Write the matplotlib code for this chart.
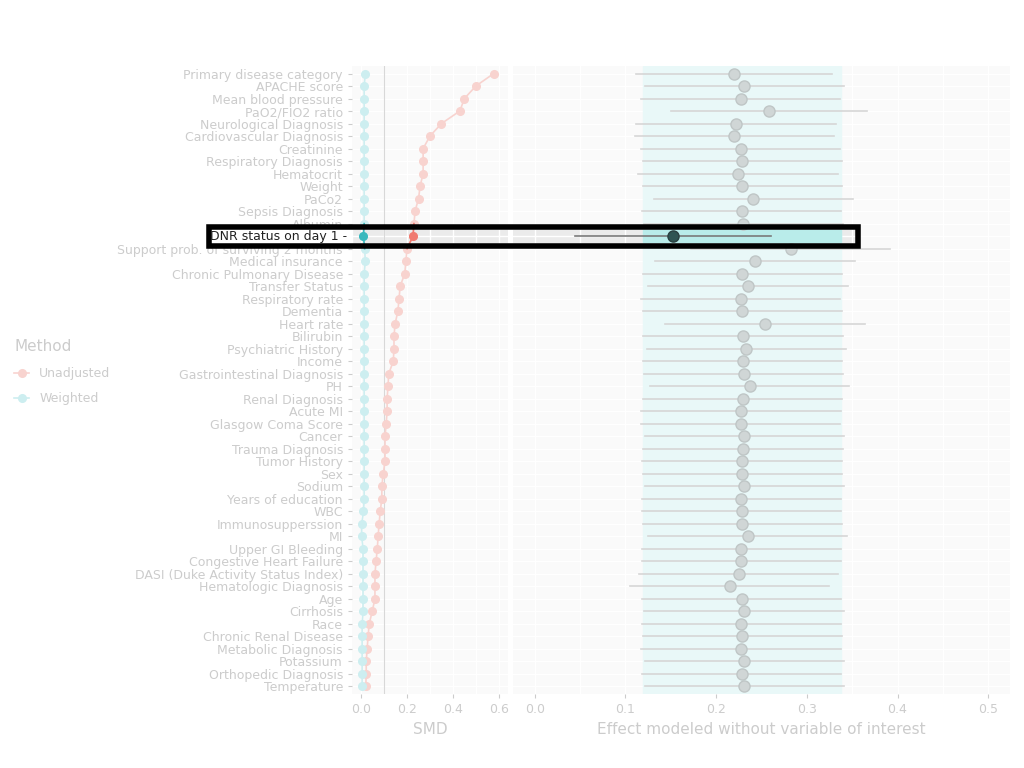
import matplotlib.pyplot as plt
from matplotlib.patches import Rectangle
from matplotlib.ticker import MultipleLocator

variables = [
    "Primary disease category", "APACHE score", "Mean blood pressure", "PaO2/FIO2 ratio",
    "Neurological Diagnosis", "Cardiovascular Diagnosis", "Creatinine", "Respiratory Diagnosis",
    "Hematocrit", "Weight", "PaCo2", "Sepsis Diagnosis", "Albumin", "DNR status on day 1",
    "Support prob. of surviving 2 months", "Medical insurance", "Chronic Pulmonary Disease",
    "Transfer Status", "Respiratory rate", "Dementia", "Heart rate", "Bilirubin",
    "Psychiatric History", "Income", "Gastrointestinal Diagnosis", "PH", "Renal Diagnosis",
    "Acute MI", "Glasgow Coma Score", "Cancer", "Trauma Diagnosis", "Tumor History", "Sex",
    "Sodium", "Years of education", "WBC", "Immunosupperssion", "MI", "Upper GI Bleeding",
    "Congestive Heart Failure", "DASI (Duke Activity Status Index)", "Hematologic Diagnosis",
    "Age", "Cirrhosis", "Race", "Chronic Renal Disease", "Metabolic Diagnosis", "Potassium",
    "Orthopedic Diagnosis", "Temperature",
]
smd_unadj = [0.578, 0.50, 0.45, 0.43, 0.35, 0.30, 0.27, 0.27, 0.27, 0.257, 0.25, 0.235, 0.23,
             0.226, 0.20, 0.195, 0.19, 0.17, 0.165, 0.16, 0.148, 0.143, 0.143, 0.14, 0.12,
             0.117, 0.113, 0.113, 0.109, 0.104, 0.104, 0.104, 0.096, 0.09, 0.09, 0.083, 0.078,
             0.074, 0.07, 0.065, 0.06, 0.06, 0.06, 0.048, 0.035, 0.03, 0.026, 0.022, 0.022, 0.02]
smd_weighted = [0.018, 0.013, 0.013, 0.013, 0.013, 0.013, 0.013, 0.013, 0.013, 0.013, 0.013,
                0.013, 0.013, 0.01, 0.015, 0.018, 0.013, 0.013, 0.013, 0.013, 0.013, 0.013,
                0.013, 0.013, 0.013, 0.013, 0.013, 0.013, 0.013, 0.013, 0.013, 0.013, 0.013,
                0.013, 0.013, 0.01, 0.002, 0.002, 0.008, 0.008, 0.008, 0.008, 0.008, 0.008,
                0.004, 0.004, 0.004, 0.004, 0.004, 0.004]
effect = [0.220, 0.231, 0.227, 0.258, 0.222, 0.220, 0.227, 0.229, 0.224, 0.229, 0.241, 0.228,
          0.230, 0.152, 0.282, 0.243, 0.229, 0.235, 0.227, 0.229, 0.254, 0.2296, 0.2333,
          0.2293, 0.2304, 0.2370, 0.2293, 0.2275, 0.2271, 0.2311, 0.2296, 0.2285, 0.2289,
          0.2311, 0.2278, 0.2282, 0.2289, 0.2348, 0.2278, 0.2278, 0.2248, 0.2149, 0.2282,
          0.2307, 0.2278, 0.2289, 0.2274, 0.2311, 0.2282, 0.2311]
half_ci = [0.108, 0.110, 0.110, 0.108, 0.110, 0.110, 0.110, 0.110, 0.110, 0.110, 0.110, 0.110,
           0.110, 0.108, 0.110, 0.110, 0.110, 0.110, 0.110, 0.110, 0.110] + [0.110] * 29
band = (0.119, 0.338)
highlight = "DNR status on day 1"

hi = variables.index(highlight)
rows = list(range(1, len(variables) + 1))
grey = "#cccccc"
pink, pink_hi = "#f8d3cf", "#f07a70"
cyan, cyan_hi = "#cdeef0", "#3ab8bd"

fig = plt.figure(figsize=(10.24, 7.68), dpi=100)
ax1 = fig.add_axes([352 / 1024, 74 / 768, 156 / 1024, 628 / 768])
ax2 = fig.add_axes([513 / 1024, 74 / 768, 497 / 1024, 628 / 768])

for ax in (ax1, ax2):
    ax.set_facecolor("#fafafa")
    ax.grid(True, which="both", color="white", lw=1.0)
    ax.set_axisbelow(True)
    for s in ax.spines.values():
        s.set_visible(False)
    ax.set_ylim(50.6, 0.4)
    ax.tick_params(colors=grey, labelcolor=grey, labelsize=9, length=3)
    ax.tick_params(which="minor", length=0)

ax1.axhspan(rows[hi] - 0.5, rows[hi] + 0.5, color="#ebebeb", zorder=0.5)
ax2.axhspan(rows[hi] - 0.5, rows[hi] + 0.5, xmax=(856 - 513) / 497, color="#ebebeb", zorder=0.5)

# left: SMD
ax1.set_xlim(-0.04, 0.64)
ax1.xaxis.set_minor_locator(MultipleLocator(0.1))
ax1.set_xticks([0.0, 0.2, 0.4, 0.6])
ax1.set_xticklabels(["0.0", "0.2", "0.4", "0.6"])
ax1.set_yticks(rows)
ax1.set_yticklabels(variables)
ax1.yaxis.set_minor_locator(MultipleLocator(1))
ax1.axvline(0.1, color="#d8d8d8", lw=0.8, zorder=1)
ax1.plot(smd_unadj, rows, "-o", color=pink, ms=5.5, lw=1.2, zorder=2, label="Unadjusted")
ax1.plot(smd_weighted, rows, "-o", color=cyan, ms=5.5, lw=1.2, zorder=2, label="Weighted")
ax1.plot(smd_unadj[hi - 1:hi + 2], rows[hi - 1:hi + 2], "-", color=pink_hi, lw=1.2, zorder=3)
ax1.plot(smd_weighted[hi - 1:hi + 2], rows[hi - 1:hi + 2], "-", color=cyan_hi, lw=1.2, zorder=3)
ax1.plot(smd_unadj[hi], rows[hi], "o", color=pink_hi, ms=5.5, zorder=4)
ax1.plot(smd_weighted[hi], rows[hi], "o", color=cyan_hi, ms=5.5, zorder=4)
ax1.set_xlabel("SMD", color=grey, fontsize=11)
ax1.get_yticklabels()[hi].set_color("#222222")
ax1.get_yticklabels()[hi].set_zorder(12)

# right: effect estimates
ax2.set_xlim(-0.024, 0.524)
ax2.xaxis.set_minor_locator(MultipleLocator(0.05))
ax2.set_xticks([0.0, 0.1, 0.2, 0.3, 0.4, 0.5])
ax2.set_xticklabels(["0.0", "0.1", "0.2", "0.3", "0.4", "0.5"])
ax2.set_yticks(rows)
ax2.tick_params(axis="y", length=0, labelleft=False)
ax2.yaxis.set_minor_locator(MultipleLocator(1))
ax2.axvspan(band[0], band[1], color="#e9f8f8", zorder=0.6)
ax2.add_patch(Rectangle((band[0], rows[hi] - 0.5), band[1] - band[0], 1.0,
                        color="#b9ecea", zorder=0.7))
for i, r in enumerate(rows):
    c = "#7a7a7a" if i == hi else "#d6d6d6"
    ax2.plot([effect[i] - half_ci[i], effect[i] + half_ci[i]], [r, r], color=c, lw=1.2, zorder=2)
    mc = "#2f5553" if i == hi else "#d0d6d6"
    ax2.plot(effect[i], r, "o", color=mc, mec="#bfc6c6" if i != hi else "#2a4040",
             ms=8, zorder=3)
ax2.set_xlabel("Effect modeled without variable of interest", color=grey, fontsize=11)

# legend
leg = fig.legend(*ax1.get_legend_handles_labels(), loc="center left",
                 bbox_to_anchor=(0.003, 0.515), frameon=False, title="Method",
                 fontsize=9, title_fontsize=11, labelcolor=grey, handlelength=1.2,
                 labelspacing=1.0)
leg.get_title().set_color(grey)
leg._legend_box.align = "left"

# highlight box: white behind the label, then black outline
fig.add_artist(Rectangle((209 / 1024, 1 - 246 / 768), 143 / 1024, 19 / 768,
                         transform=fig.transFigure, color="white", zorder=5))
lab = variables[hi]
fig.text(347 / 1024, 1 - 236.5 / 768, lab + " -", ha="right", va="center",
         fontsize=9, color="#222222", zorder=11)
ax1.get_yticklabels()[hi].set_visible(False)
fig.add_artist(Rectangle((209 / 1024, 1 - 246 / 768), 649 / 1024, 19 / 768,
                         transform=fig.transFigure, fill=False, ec="black", lw=4, zorder=10))

fig.savefig("out.png", dpi=100)
